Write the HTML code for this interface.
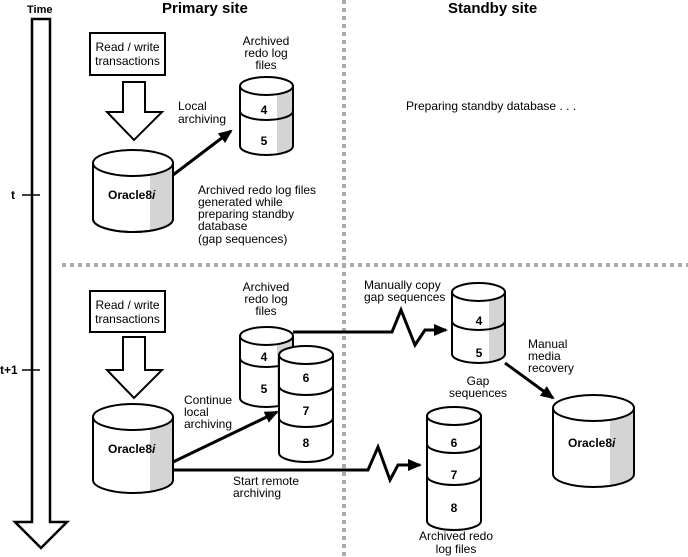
<!DOCTYPE html>
<html><head><meta charset="utf-8"><style>
html,body{margin:0;padding:0;background:#fff;}
svg{display:block;}
text{font-family:"Liberation Sans",sans-serif;font-size:12px;fill:#000;}
.b{font-weight:bold;}
.h{font-size:15px;font-weight:bold;}
</style></head><body>
<svg width="688" height="557" viewBox="0 0 688 557" xmlns="http://www.w3.org/2000/svg">
<defs>
<marker id="ah2" markerWidth="14" markerHeight="12" refX="12" refY="6" orient="auto" markerUnits="userSpaceOnUse" viewBox="0 0 14 12">
<path d="M0,0 L14,6 L0,12 Z" fill="#000"/></marker>
</defs>
<line x1="344" y1="0" x2="344" y2="557" stroke="#aaa" stroke-width="4" stroke-dasharray="4 4"/>
<line x1="62" y1="265" x2="688" y2="265" stroke="#aaa" stroke-width="4" stroke-dasharray="4 4"/>
<path d="M32,19 L50,19 L50,522 L67,522 L41,548 L15,522 L32,522 Z" fill="#fff" stroke="#000" stroke-width="2.5" stroke-linejoin="miter"/>
<text x="27" y="13" class="b" style="font-size:11px">Time</text>
<line x1="22" y1="195" x2="40" y2="195" stroke="#000" stroke-width="1.5"/>
<text x="11" y="199" class="b">t</text>
<line x1="22" y1="370" x2="40" y2="370" stroke="#000" stroke-width="1.5"/>
<text x="0" y="374" class="b">t+1</text>
<text x="162" y="13" class="h">Primary site</text>
<text x="448" y="13" class="h">Standby site</text>
<text x="406" y="110">Preparing standby database . . .</text>

<rect x="90" y="33" width="75" height="42" fill="#fff" stroke="#000" stroke-width="2"/>
<text x="127.5" y="51" text-anchor="middle">Read / write</text>
<text x="127.5" y="65" text-anchor="middle">transactions</text>
<path d="M123,82 L145,82 L145,112 L162,112 L134,140 L107,112 L123,112 Z" fill="#fff" stroke="#000" stroke-width="2"/>
<path d="M93,163 L93,219 A40 13 0 0 0 173,219 L173,163 Z" fill="#fff" stroke="#000" stroke-width="2"/>
<path d="M150,163 L150,230.8 A40 13 0 0 0 173,219 L173,163 Z" fill="#d4d4d4"/>
<path d="M93,163 L93,219 A40 13 0 0 0 173,219 L173,163" fill="none" stroke="#000" stroke-width="2"/>
<ellipse cx="133" cy="163" rx="40" ry="13" fill="#fff" stroke="#000" stroke-width="2"/>
<text x="108" y="199" class="b">Oracle8<tspan font-style="italic">i</tspan></text>
<path d="M240,86 L240,146 A26.5 9 0 0 0 293,146 L293,86 Z" fill="#fff"/>
<path d="M277,86 L277,154.3 A26.5 9 0 0 0 293,146 L293,86 Z" fill="#d4d4d4"/>
<path d="M240,86 L240,146 A26.5 9 0 0 0 293,146 L293,86" fill="none" stroke="#000" stroke-width="2"/>
<path d="M240,111 A26.5 9 0 0 0 293,111" fill="none" stroke="#000" stroke-width="2"/>
<ellipse cx="266.5" cy="86" rx="26.5" ry="9" fill="#fff" stroke="#000" stroke-width="2"/>
<text x="264" y="114" class="b" text-anchor="middle">4</text>
<text x="264" y="145" class="b" text-anchor="middle">5</text>
<text x="266" y="45" text-anchor="middle">Archived</text>
<text x="266" y="57" text-anchor="middle">redo log</text>
<text x="266" y="69" text-anchor="middle">files</text>
<line x1="173" y1="175" x2="231" y2="131" stroke="#000" stroke-width="3" marker-end="url(#ah2)"/>
<text x="178" y="110">Local</text>
<text x="178" y="123">archiving</text>
<text x="198" y="194">Archived redo log files</text>
<text x="198" y="206">generated while</text>
<text x="198" y="218">preparing standby</text>
<text x="198" y="230">database</text>
<text x="198" y="243">(gap sequences)</text>

<rect x="90" y="291" width="75" height="41" fill="#fff" stroke="#000" stroke-width="2"/>
<text x="127.5" y="309" text-anchor="middle">Read / write</text>
<text x="127.5" y="323" text-anchor="middle">transactions</text>
<path d="M123,337 L145,337 L145,370 L162,370 L134,398 L107,370 L123,370 Z" fill="#fff" stroke="#000" stroke-width="2"/>
<path d="M293,332 L392,332 L401,310 L415,345 L425,330 L446,330" fill="none" stroke="#000" stroke-width="3" marker-end="url(#ah2)"/>
<path d="M173,470 L368,470 L378,447 L390,480 L398,465 L420,465" fill="none" stroke="#000" stroke-width="3" marker-end="url(#ah2)"/>
<path d="M93,417 L93,480 A40 13 0 0 0 173,480 L173,417 Z" fill="#fff"/>
<path d="M150,417 L150,491.8 A40 13 0 0 0 173,480 L173,417 Z" fill="#d4d4d4"/>
<path d="M93,417 L93,480 A40 13 0 0 0 173,480 L173,417" fill="none" stroke="#000" stroke-width="2"/>
<ellipse cx="133" cy="417" rx="40" ry="13" fill="#fff" stroke="#000" stroke-width="2"/>
<text x="108" y="453" class="b">Oracle8<tspan font-style="italic">i</tspan></text>
<path d="M240,336 L240,398 A26.5 9 0 0 0 293,398 L293,336 Z" fill="#fff"/>
<path d="M277,336 L277,406.3 A26.5 9 0 0 0 293,398 L293,336 Z" fill="#d4d4d4"/>
<path d="M240,336 L240,398 A26.5 9 0 0 0 293,398 L293,336" fill="none" stroke="#000" stroke-width="2"/>
<path d="M240,358 A26.5 9 0 0 0 293,358" fill="none" stroke="#000" stroke-width="2"/>
<ellipse cx="266.5" cy="336" rx="26.5" ry="9" fill="#fff" stroke="#000" stroke-width="2"/>
<text x="264" y="361" class="b" text-anchor="middle">4</text>
<text x="264" y="393" class="b" text-anchor="middle">5</text>
<text x="266" y="291" text-anchor="middle">Archived</text>
<text x="266" y="303" text-anchor="middle">redo log</text>
<text x="266" y="315" text-anchor="middle">files</text>
<path d="M279,355 L279,453 A27 9 0 0 0 333,453 L333,355 Z" fill="#fff" stroke="#000" stroke-width="2"/>
<path d="M279,386 A27 9 0 0 0 333,386 M279,418 A27 9 0 0 0 333,418" fill="none" stroke="#000" stroke-width="2"/>
<ellipse cx="306" cy="355" rx="27" ry="9" fill="#fff" stroke="#000" stroke-width="2"/>
<text x="306" y="382" class="b" text-anchor="middle">6</text>
<text x="306" y="415" class="b" text-anchor="middle">7</text>
<text x="306" y="447" class="b" text-anchor="middle">8</text>
<line x1="173" y1="462" x2="277" y2="412" stroke="#000" stroke-width="3" marker-end="url(#ah2)"/>
<text x="184" y="404">Continue</text>
<text x="184" y="416">local</text>
<text x="184" y="428">archiving</text>
<text x="233" y="485">Start remote</text>
<text x="233" y="497">archiving</text>
<text x="364" y="289">Manually copy</text>
<text x="364" y="301">gap sequences</text>
<path d="M452,292 L452,354 A26.5 9 0 0 0 505,354 L505,292 Z" fill="#fff"/>
<path d="M489,292 L489,362.3 A26.5 9 0 0 0 505,354 L505,292 Z" fill="#d4d4d4"/>
<path d="M452,292 L452,354 A26.5 9 0 0 0 505,354 L505,292" fill="none" stroke="#000" stroke-width="2"/>
<path d="M452,321 A26.5 9 0 0 0 505,321" fill="none" stroke="#000" stroke-width="2"/>
<ellipse cx="478.5" cy="292" rx="26.5" ry="9" fill="#fff" stroke="#000" stroke-width="2"/>
<text x="479" y="325" class="b" text-anchor="middle">4</text>
<text x="479" y="357" class="b" text-anchor="middle">5</text>
<text x="478" y="385" text-anchor="middle">Gap</text>
<text x="478" y="397" text-anchor="middle">sequences</text>
<line x1="505" y1="363" x2="553" y2="398" stroke="#000" stroke-width="3" marker-end="url(#ah2)"/>
<text x="528" y="348">Manual</text>
<text x="528" y="360">media</text>
<text x="528" y="372">recovery</text>
<path d="M553,408 L553,474 A40.5 13 0 0 0 634,474 L634,408 Z" fill="#fff"/>
<path d="M610,408 L610,485.9 A40.5 13 0 0 0 634,474 L634,408 Z" fill="#d4d4d4"/>
<path d="M553,408 L553,474 A40.5 13 0 0 0 634,474 L634,408" fill="none" stroke="#000" stroke-width="2"/>
<ellipse cx="593.5" cy="408" rx="40.5" ry="13" fill="#fff" stroke="#000" stroke-width="2"/>
<text x="568" y="447" class="b">Oracle8<tspan font-style="italic">i</tspan></text>
<path d="M427,416 L427,521 A27 9 0 0 0 481,521 L481,416 Z" fill="#fff" stroke="#000" stroke-width="2"/>
<path d="M427,444 A27 9 0 0 0 481,444 M427,476 A27 9 0 0 0 481,476" fill="none" stroke="#000" stroke-width="2"/>
<ellipse cx="454" cy="416" rx="27" ry="9" fill="#fff" stroke="#000" stroke-width="2"/>
<text x="454" y="447" class="b" text-anchor="middle">6</text>
<text x="454" y="479" class="b" text-anchor="middle">7</text>
<text x="454" y="512" class="b" text-anchor="middle">8</text>
<text x="456" y="540" text-anchor="middle">Archived redo</text>
<text x="456" y="553" text-anchor="middle">log files</text>
</svg>
</body></html>
